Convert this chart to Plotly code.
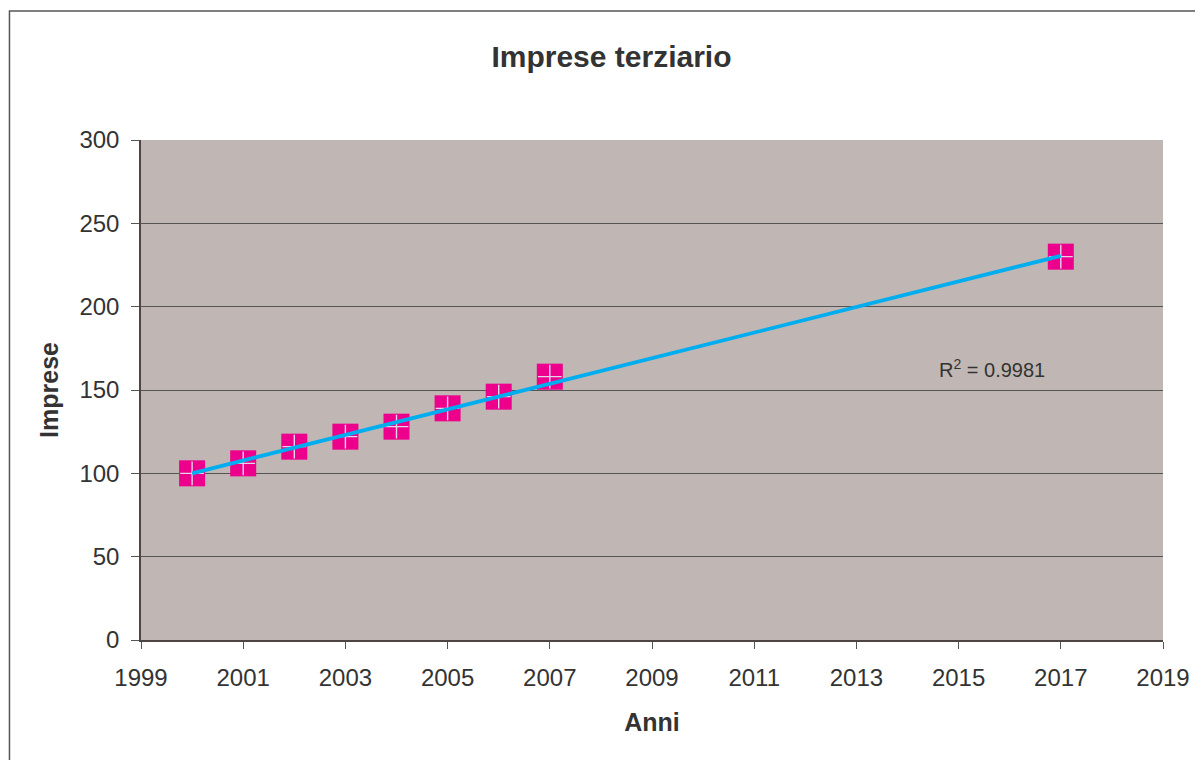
import plotly.graph_objects as go

# ── Data ──────────────────────────────────────────────────────────────
years = [2000, 2001, 2002, 2003, 2004, 2005, 2006, 2007, 2017]
imprese = [100, 106, 116, 122, 128, 139, 146, 158, 230]

trend_years = [2000, 2017]
trend_values = [100, 230.5]
r2_label = "R<sup>2</sup> = 0.9981"

x_ticks = list(range(1999, 2020, 2))
y_ticks = [0, 50, 100, 150, 200, 250, 300]

MARKER_COLOR = "#EC008C"
LINE_COLOR = "#00AEEF"
PLOT_BG = "#C0B7B4"
TEXT = "#333333"
FONT = "Liberation Sans, Arial, sans-serif"

fig = go.Figure()

# squares
fig.add_trace(go.Scatter(
    x=years, y=imprese, mode="markers",
    marker=dict(symbol="square", size=26, color=MARKER_COLOR, line=dict(width=0)),
    showlegend=False,
))
# light plus inside each square
fig.add_trace(go.Scatter(
    x=years, y=imprese, mode="markers",
    marker=dict(symbol="cross-thin", size=17, color="#E4D6EA",
                line=dict(width=1.4, color="#E4D6EA")),
    showlegend=False,
))
# linear trend
fig.add_trace(go.Scatter(
    x=trend_years, y=trend_values, mode="lines",
    line=dict(color=LINE_COLOR, width=3.8),
    showlegend=False,
))

fig.add_annotation(
    x=2015.65, y=163, xref="x", yref="y", text=r2_label, showarrow=False,
    font=dict(size=20, color=TEXT, family=FONT),
)

# outer frame of the chart
fig.add_shape(
    type="rect", xref="paper", yref="paper",
    x0=-0.1287, x1=1.2, y0=-0.4, y1=1.258,
    line=dict(color="#555555", width=1.5), fillcolor="rgba(0,0,0,0)",
    layer="below",
)

# page body has an 8px margin, so the figure is sized/offset to compensate
fig.update_layout(
    width=1195, height=752,
    paper_bgcolor="white",
    plot_bgcolor=PLOT_BG,
    margin=dict(l=133, r=40, t=132, b=120),
    font=dict(family=FONT, color=TEXT, size=24),
    title=dict(
        text="<b>Imprese terziario</b>",
        x=0.505, xanchor="center", y=0.935, yanchor="middle",
        font=dict(size=30, color=TEXT, family=FONT),
    ),
)

fig.update_xaxes(
    range=[1999, 2019], tickvals=x_ticks,
    showgrid=False, zeroline=False,
    showline=True, linecolor="#4d4444", linewidth=1.5,
    ticks="outside", ticklen=7, tickcolor="#555555",
    ticklabelstandoff=8,
    tickfont=dict(size=24, color=TEXT),
    title=dict(text="<b>Anni</b>", font=dict(size=25, color=TEXT), standoff=24),
)
fig.update_yaxes(
    range=[0, 300], tickvals=y_ticks,
    showgrid=True, gridcolor="#555555", gridwidth=1,
    zeroline=False,
    showline=True, linecolor="#4d4444", linewidth=1.5,
    ticks="outside", ticklen=8, tickcolor="#555555",
    ticklabelstandoff=7,
    tickfont=dict(size=24, color=TEXT),
    title=dict(text="<b>Imprese</b>", font=dict(size=25, color=TEXT), standoff=14),
)

fig.write_html("out.html")
